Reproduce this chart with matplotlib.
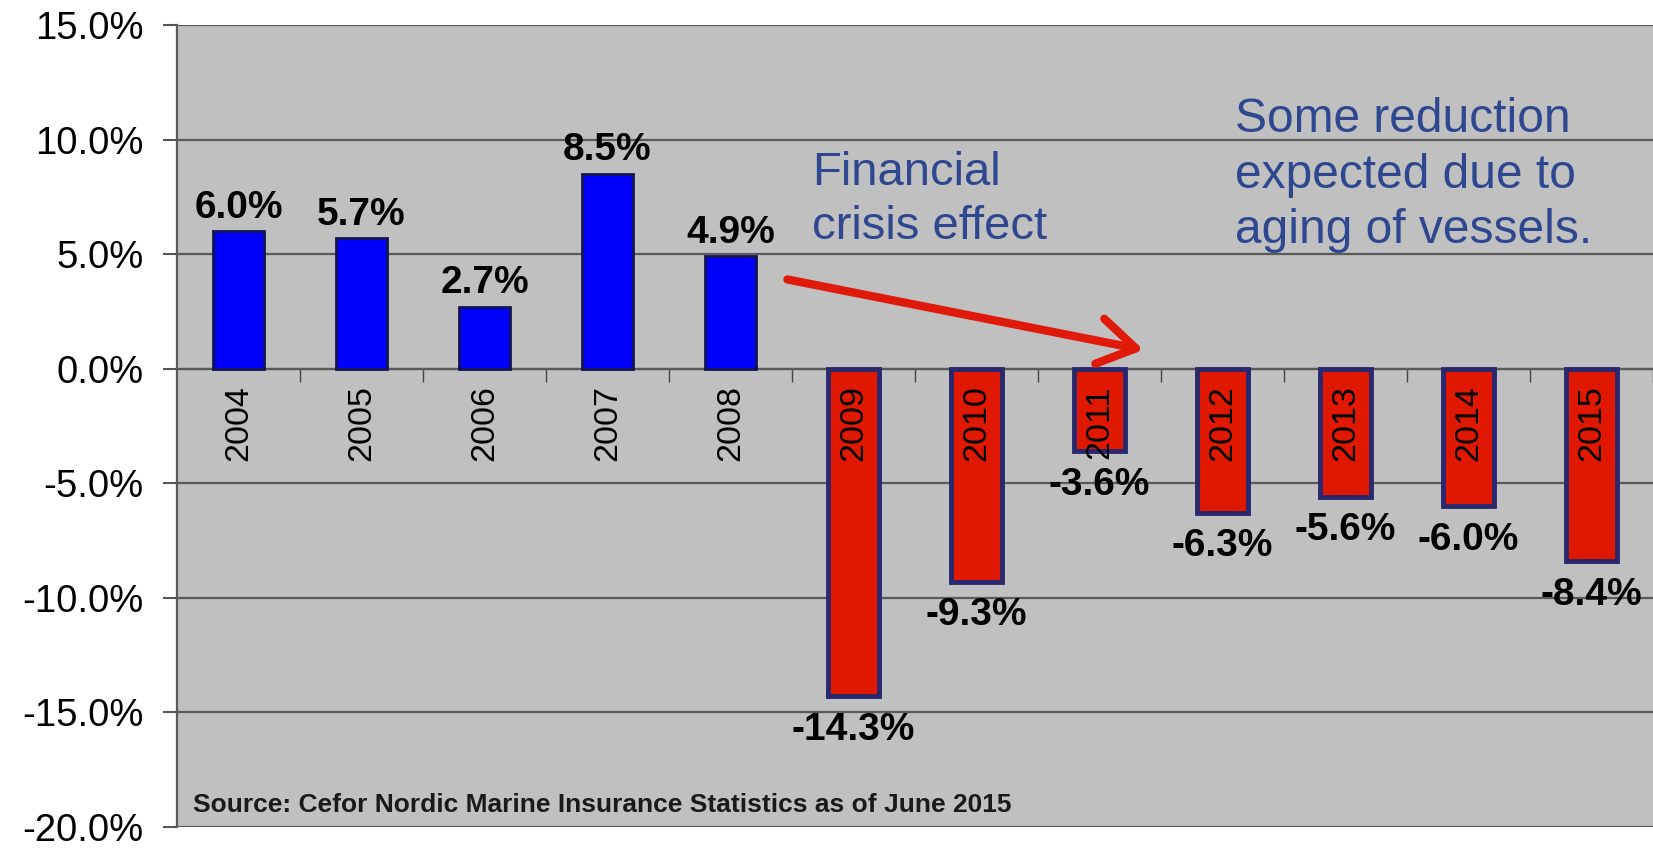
import matplotlib.pyplot as plt
from matplotlib.patches import FancyArrowPatch

years = ["2004", "2005", "2006", "2007", "2008", "2009",
         "2010", "2011", "2012", "2013", "2014", "2015"]
changes = [6.0, 5.7, 2.7, 8.5, 4.9, -14.3, -9.3, -3.6, -6.3, -5.6, -6.0, -8.4]
y_ticks = [15, 10, 5, 0, -5, -10, -15, -20]

source_note = "Source: Cefor Nordic Marine Insurance Statistics as of June 2015"
crisis_note = "Financial\ncrisis effect"
aging_note = "Some reduction\nexpected due to\naging of vessels."

plt.rcParams["font.family"] = ["Liberation Sans", "DejaVu Sans"]

fig = plt.figure(figsize=(16.53, 8.5), dpi=100)
ax = fig.add_axes([0.1071, 0.027, 0.8929, 0.9436])
ax.set_facecolor("#c0c0c0")

x = list(range(len(years)))
fills = ["#0000ff" if v >= 0 else "#e01800" for v in changes]
edges = ["#141450" if v >= 0 else "#28286e" for v in changes]
widths = [2.0 if v >= 0 else 3.5 for v in changes]
ax.bar(x, changes, width=0.42, color=fills, edgecolor=edges,
       linewidth=widths, zorder=2)

# value labels
for i, v in enumerate(changes):
    if v >= 0:
        ax.annotate(f"{v:.1f}%", (i, v), xytext=(0, 4), textcoords="offset points",
                    ha="center", va="bottom", fontsize=28, fontweight="bold", zorder=4)
    else:
        ax.annotate(f"{v:.1f}%", (i, v), xytext=(0, -11), textcoords="offset points",
                    ha="center", va="top", fontsize=28, fontweight="bold", zorder=4)

# year labels sit just under the zero line
for i, yr in enumerate(years):
    ax.annotate(yr, (i, 0), xytext=(0, -12), textcoords="offset points",
                ha="center", va="top", rotation=90, fontsize=24.5, zorder=5)

ax.set_xlim(-0.5, len(years) - 0.5)
ax.set_ylim(-20, 15)
ax.set_yticks(y_ticks)
ax.set_yticklabels([f"{t:.1f}%" for t in y_ticks], fontsize=27.5)
ax.set_xticks([i + 0.5 for i in x])
ax.tick_params(axis="x", length=9, width=1, color="#444444", labelbottom=False)
ax.tick_params(axis="y", length=10, width=1.5, color="#555555", pad=14)

ax.grid(axis="y", color="#5a5a5a", linewidth=1.6)
ax.set_axisbelow(True)
ax.spines["bottom"].set_position(("data", 0))
ax.spines["bottom"].set_color("#5a5a5a")
ax.spines["bottom"].set_linewidth(1.6)
ax.spines["bottom"].set_zorder(1.5)
ax.spines["left"].set_color("#5a5a5a")
ax.spines["left"].set_linewidth(1.6)
ax.spines["top"].set_visible(False)
ax.spines["right"].set_visible(False)

note_color = "#2f4790"
ax.text(4.66, 9.5, crisis_note, fontsize=34, color=note_color,
        ha="left", va="top", linespacing=1.3)
ax.text(8.1, 11.85, aging_note, fontsize=34.5, color=note_color,
        ha="left", va="top", linespacing=1.3)

arrow = FancyArrowPatch((4.44, 3.92), (7.38, 0.8),
                        arrowstyle="->,head_length=1.2,head_width=0.75",
                        mutation_scale=22, color="#e01a0a", linewidth=6,
                        zorder=6)
ax.add_patch(arrow)

ax.text(-0.37, -19.35, source_note, fontsize=19,
        fontweight="bold", color="#1a1a1a", ha="left", va="baseline")

fig.savefig("out.png", dpi=100)
